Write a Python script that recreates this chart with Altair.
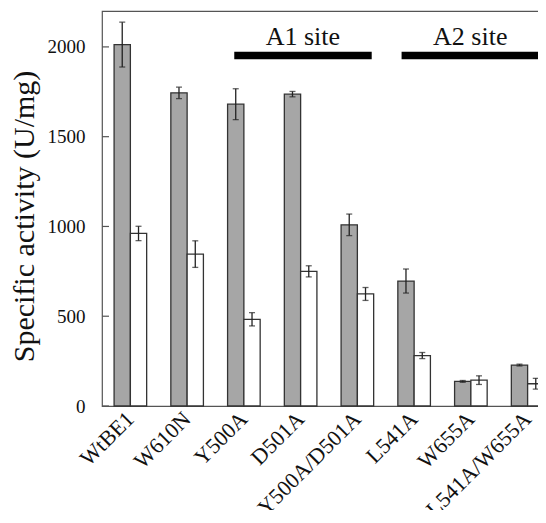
import altair as alt
import pandas as pd

mutants = ["WtBE1", "W610N", "Y500A", "D501A", "Y500A/D501A", "L541A", "W655A", "L541A/W655A"]
series = ["Series 1", "Series 2"]
gray_vals = [2013, 1744, 1681, 1737, 1009, 696, 137, 228]
gray_err = [125, 32, 86, 15, 60, 67, 5, 5]
white_vals = [961, 846, 483, 750, 624, 281, 144, 124]
white_err = [40, 74, 37, 31, 36, 17, 24, 30]
bar_colors = ["#a6a6a6", "#ffffff"]
y_ticks = [0, 500, 1000, 1500, 2000]
sites = ["A1 site", "A2 site"]

FONT = "Liberation Serif"

rows = []
for i, m in enumerate(mutants):
    rows.append({"mutant": m, "series": series[0], "value": gray_vals[i], "err": gray_err[i]})
    rows.append({"mutant": m, "series": series[1], "value": white_vals[i], "err": white_err[i]})
df = pd.DataFrame(rows)
df["lo"] = df["value"] - df["err"]
df["hi"] = df["value"] + df["err"]

xscale = alt.Scale(domain=mutants, paddingInner=0.426, paddingOuter=0.213)
xo = alt.XOffset("series:N", scale=alt.Scale(domain=series, paddingInner=0, paddingOuter=0))
yscale = alt.Scale(domain=[0, 2200], nice=False, zero=True)

base = alt.Chart(df)

bars = base.mark_bar(stroke="#333333", strokeWidth=1.3).encode(
    x=alt.X("mutant:N", scale=xscale, title=" "),
    xOffset=xo,
    y=alt.Y("value:Q", scale=yscale, title="Specific activity (U/mg)"),
    color=alt.Color("series:N", scale=alt.Scale(domain=series, range=bar_colors), legend=None),
)

err_rule = base.mark_rule(color="#222222", strokeWidth=1.3).encode(
    x=alt.X("mutant:N", scale=xscale), xOffset=xo,
    y=alt.Y("lo:Q", scale=yscale), y2="hi:Q",
)
cap_lo = base.mark_tick(color="#222222", orient="horizontal", size=6, thickness=1.3).encode(
    x=alt.X("mutant:N", scale=xscale), xOffset=xo,
    y=alt.Y("lo:Q", scale=yscale),
)
cap_hi = base.mark_tick(color="#222222", orient="horizontal", size=6, thickness=1.3).encode(
    x=alt.X("mutant:N", scale=xscale), xOffset=xo,
    y=alt.Y("hi:Q", scale=yscale),
)

tick_df = pd.DataFrame({"t": y_ticks})
inner_ticks = alt.Chart(tick_df).mark_rule(color="#555555", strokeWidth=1.2).encode(
    y=alt.Y("t:Q", scale=yscale), x=alt.value(0), x2=alt.value(7),
)

a1_df = pd.DataFrame({"s": ["Y500A"], "e": ["Y500A/D501A"]})
a2_df = pd.DataFrame({"s": ["L541A"], "e": ["L541A/W655A"]})
a1_bar = alt.Chart(a1_df).mark_rule(color="black", strokeWidth=7.5, strokeCap="butt").encode(
    x=alt.X("s:N", scale=xscale, bandPosition=0.205),
    x2=alt.X2("e:N", bandPosition=0.94),
    y=alt.datum(1952),
)
a2_bar = alt.Chart(a2_df).mark_rule(color="black", strokeWidth=7.5, strokeCap="butt").encode(
    x=alt.X("s:N", scale=xscale, bandPosition=0.115),
    x2=alt.X2("e:N", bandPosition=1.0),
    y=alt.datum(1952),
)
t1_df = pd.DataFrame({"c": ["D501A"], "label": [sites[0]]})
t2_df = pd.DataFrame({"c": ["W655A"], "label": [sites[1]]})
t1 = alt.Chart(t1_df).mark_text(font=FONT, fontSize=26, baseline="alphabetic", color="#111").encode(
    x=alt.X("c:N", scale=xscale, bandPosition=0.57), y=alt.datum(2009), text="label:N",
)
t2 = alt.Chart(t2_df).mark_text(font=FONT, fontSize=26, baseline="alphabetic", color="#111").encode(
    x=alt.X("c:N", scale=xscale, bandPosition=0.48), y=alt.datum(2009), text="label:N",
)

chart = alt.layer(bars, err_rule, cap_lo, cap_hi, inner_ticks, a1_bar, a2_bar, t1, t2).properties(
    width=454, height=395,
    autosize=alt.AutoSizeParams(type="none"),
    padding={"left": 94, "top": 3, "right": -18, "bottom": 104},
    background="white",
).configure_view(
    stroke="#555555", strokeWidth=1.2
).configure_axis(
    labelFont=FONT, titleFont=FONT, labelColor="#111", titleColor="#111",
    ticks=False, domain=False, grid=False,
).configure_axisX(
    labelFont=FONT, labelAngle=-45, labelFontSize=22, labelPadding=9,
    labelBaseline="middle", labelAlign="right",
).configure_axisY(
    labelFont=FONT, labelFontSize=19, labelPadding=17, tickCount=5, format="d",
    titleFont=FONT, titleFontSize=30, titleFontWeight="normal",
    titleX=-63, titleY=205, titleBaseline="bottom",
)

chart.save("out.html", embed_options={"renderer": "svg", "actions": False})
